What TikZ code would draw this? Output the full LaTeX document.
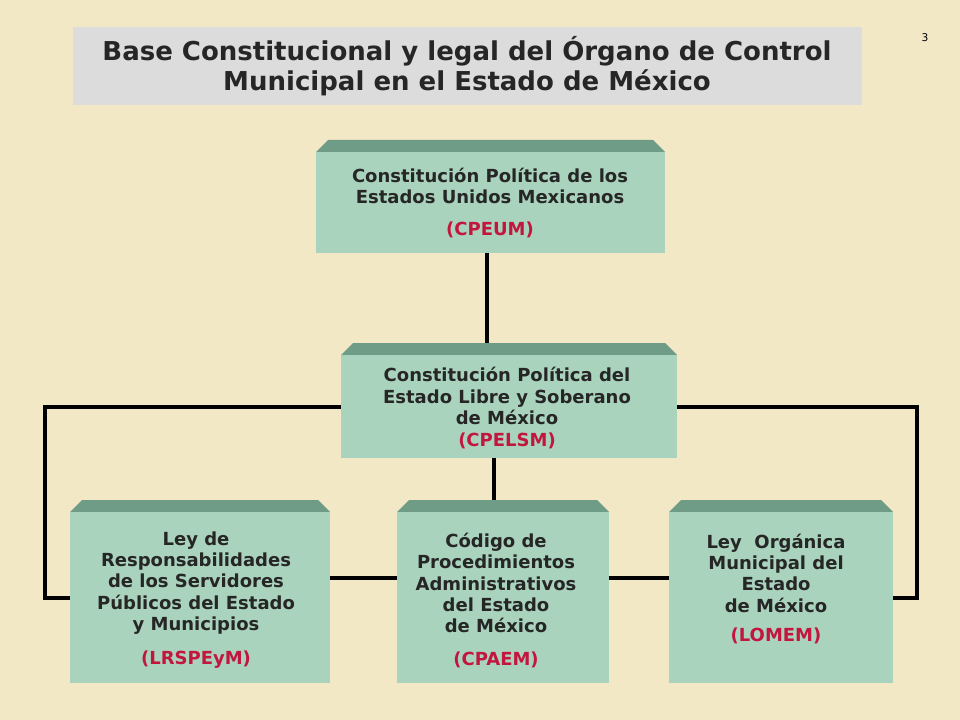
\documentclass[tikz,border=0pt]{standalone}
\usepackage{fontspec}
\setmainfont{DejaVu Sans}
\begin{document}
\begin{tikzpicture}[x=0.75pt,y=-0.75pt,
  conn/.style={line width=3pt,black},
  txt/.style={align=center,font=\bfseries\fontsize{13.5}{16}\selectfont,text=black!85},
  red/.style={text=redl}]
\definecolor{bg}{HTML}{F3E8C6}
\definecolor{boxg}{HTML}{A9D3BD}
\definecolor{boxt}{HTML}{6F9C86}
\definecolor{redl}{HTML}{C2163F}
\definecolor{ttl}{HTML}{DCDCDC}
\fill[bg] (0,0) rectangle (960,720);
\useasboundingbox (0,0) rectangle (960,720);
% title
\fill[ttl] (73,27) rectangle (862,105);
\node[align=center,font=\bfseries\fontsize{19.5}{22}\selectfont,text=black!85] (title) at (467,66) {Base Constitucional y legal del Órgano de Control\\Municipal en el Estado de México};
\node[font=\fontsize{8}{9}\selectfont] (pg) at (925,38) {3};
% connectors
\coordinate (b1b) at (487,253);
\coordinate (b2t) at (487,355);
\draw[conn] (b1b) -- (b2t);
\coordinate (l1) at (341,407); \coordinate (l2) at (45,407); \coordinate (l3) at (45,598); \coordinate (l4) at (70,598);
\draw[conn] (l1) -- (l2) -- (l3) -- (l4);
\coordinate (r1) at (677,407); \coordinate (r2) at (917,407); \coordinate (r3) at (917,598); \coordinate (r4) at (893,598);
\draw[conn] (r1) -- (r2) -- (r3) -- (r4);
\coordinate (m1) at (330,578); \coordinate (m2) at (397,578);
\coordinate (m3) at (609,578); \coordinate (m4) at (669,578);
\draw[conn] (m1) -- (m2); \draw[conn] (m3) -- (m4);
\coordinate (v1) at (494,458); \coordinate (v2) at (494,512);
\draw[conn] (v1) -- (v2);
% boxes
\foreach \x/\y/\X/\Y in {316/152/665/253, 341/355/677/458, 70/512/330/683, 397/512/609/683, 669/512/893/683}{
  \fill[boxt] (\x,\y) -- (\x+12,\y-12) -- (\X-12,\y-12) -- (\X,\y) -- cycle;
  \fill[boxg] (\x,\y) rectangle (\X,\Y);
}
\node[txt] (n1) at (490,186) {Constitución Política de los\\Estados Unidos Mexicanos};
\node[txt,red] (n1r) at (490,230) {(CPEUM)};
\node[txt] (n2) at (507,396) {Constitución Política del\\Estado Libre y Soberano\\de México};
\node[txt,red] (n2r) at (507,441) {(CPELSM)};
\node[txt] (n3) at (196,583) {Ley de\\Responsabilidades\\de los Servidores\\Públicos del Estado\\y Municipios};
\node[txt,red] (n3r) at (196,660) {(LRSPEyM)};
\node[txt] (n4) at (496,583) {Código de\\Procedimientos\\Administrativos\\del Estado\\de México};
\node[txt,red] (n4r) at (496,660) {(CPAEM)};
\node[txt] (n5) at (776,573) {Ley~ Orgánica\\Municipal del\\Estado\\de México};
\node[txt,red] (n5r) at (776,636) {(LOMEM)};
\end{tikzpicture}
\end{document}
